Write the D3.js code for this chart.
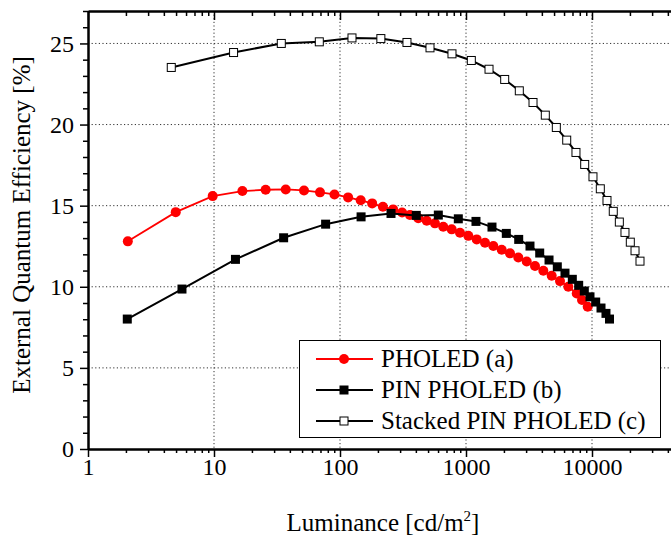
<!DOCTYPE html>
<html>
<head>
<meta charset="utf-8">
<script src="https://cdn.jsdelivr.net/npm/d3@7"></script>
<style>
  body { margin: 0; background: #fff; }
  svg { display: block; }
  svg text { font-family: "Liberation Serif", "Times New Roman", serif; fill: #000; }
  .grid line { stroke: #333; stroke-width: 1; stroke-dasharray: 1.2,2.4; }
</style>
</head>
<body>
<div id="chart"></div>
<script>
"use strict";

// PHOLED (a)
var pholedLum = [2.07, 4.97, 9.76, 16.8, 25.7, 37.1, 51.8, 69.4, 90.4, 116, 146, 180, 219, 264, 311,
  359, 418, 488, 567, 660, 770, 896, 1043, 1216, 1415, 1648, 1920, 2235, 2601, 3033,
  3530, 4110, 4788, 5571, 6486, 7563, 8334, 9246];
var pholedEqe = [12.80, 14.60, 15.59, 15.90, 15.98, 16.00, 15.94, 15.82, 15.69, 15.51, 15.33, 15.14, 14.93, 14.77, 14.58,
  14.42, 14.23, 14.07, 13.91, 13.70, 13.54, 13.33, 13.14, 12.92, 12.71, 12.51, 12.28, 12.06, 11.81, 11.56,
  11.28, 10.99, 10.68, 10.35, 10.00, 9.59, 9.18, 8.77];

// PIN PHOLED (b)
var pinLum = [2.05, 5.57, 14.8, 35.7, 76.9, 147, 254, 403, 603, 869, 1200, 1608, 2089, 2620, 3220,
  3846, 4560, 5305, 6105, 6980, 7840, 8690, 9640, 10700, 11790, 12910, 13770];
var pinEqe = [8.01, 9.86, 11.69, 13.02, 13.86, 14.31, 14.52, 14.40, 14.42, 14.19, 14.03, 13.68, 13.29, 12.92, 12.51,
  12.08, 11.65, 11.23, 10.84, 10.46, 10.09, 9.74, 9.38, 9.06, 8.69, 8.36, 8.01];

// Stacked PIN PHOLED (c)
var stackLum = [4.58, 14.3, 34.2, 68.5, 124.5, 211, 340, 518, 774, 1102, 1523, 2028, 2649, 3403,
  4260, 5210, 6300, 7460, 8750, 10180, 11640, 13150, 14750, 16480, 18270, 20140, 21950, 24040];
var stackEqe = [23.52, 24.44, 25.00, 25.10, 25.34, 25.30, 25.06, 24.73, 24.36, 23.95, 23.41, 22.78, 22.08, 21.36,
  20.58, 19.82, 19.04, 18.28, 17.54, 16.78, 16.04, 15.32, 14.65, 13.99, 13.35, 12.75, 12.22, 11.58];

var seriesNames = ["PHOLED (a)", "PIN PHOLED (b)", "Stacked PIN PHOLED (c)"];
var xMajor = [1, 10, 100, 1000, 10000];
var yMajor = [0, 5, 10, 15, 20, 25];

var width = 671;
var height = 538;

function zip(xs, ys) {
  return xs.map(function(v, i) { return { x: v, y: ys[i] }; });
}

var x = d3.scaleLog().domain([1, 100000]).range([88, 718]);
var y = d3.scaleLinear().domain([0, 27]).range([449, 11]);

// minor ticks 2..9 in every decade
var xMinor = [];
xMajor.forEach(function(d) {
  for (var k = 2; k <= 9; k++) xMinor.push(d * k);
});
var yMinor = d3.range(0, 28).filter(function(v) { return v % 5 !== 0; });

var svg = d3.select("#chart")
  .append("svg")
  .attr("width", width)
  .attr("height", height);

// dotted grid
var grid = svg.append("g").attr("class", "grid");
grid.selectAll(".gy")
  .data(yMajor.slice(1))
  .enter().append("line")
  .attr("x1", x(1)).attr("x2", width)
  .attr("y1", function(d) { return y(d); })
  .attr("y2", function(d) { return y(d); });
grid.selectAll(".gx")
  .data([10, 100, 1000, 10000])
  .enter().append("line")
  .attr("y1", y(27)).attr("y2", y(0))
  .attr("x1", function(d) { return x(d); })
  .attr("x2", function(d) { return x(d); });

function styleAxis(g) {
  g.attr("font-family", null);
  g.select(".domain").attr("stroke", "#000").attr("stroke-width", 2);
  g.selectAll(".tick line").attr("stroke", "#000").attr("stroke-width", 1.5);
  g.selectAll("text").attr("font-size", 24);
}

// bottom axis
svg.append("g")
  .attr("transform", "translate(0," + y(0) + ")")
  .call(d3.axisBottom(x).tickValues(xMinor).tickSize(4).tickSizeOuter(0).tickFormat(""))
  .call(styleAxis);
svg.append("g")
  .attr("transform", "translate(0," + y(0) + ")")
  .call(d3.axisBottom(x).tickValues(xMajor).tickSize(8).tickSizeOuter(0).tickPadding(1)
    .tickFormat(d3.format("d")))
  .call(styleAxis);

// top axis, ticks pointing inward
svg.append("g")
  .attr("transform", "translate(0," + y(27) + ")")
  .call(d3.axisTop(x).tickValues(xMinor).tickSize(-5).tickSizeOuter(0).tickFormat(""))
  .call(styleAxis);
svg.append("g")
  .attr("transform", "translate(0," + y(27) + ")")
  .call(d3.axisTop(x).tickValues(xMajor).tickSize(-9).tickSizeOuter(0).tickFormat(""))
  .call(styleAxis);

// left axis
svg.append("g")
  .attr("transform", "translate(" + x(1) + ",0)")
  .call(d3.axisLeft(y).tickValues(yMinor).tickSize(5).tickSizeOuter(0).tickFormat(""))
  .call(styleAxis);
svg.append("g")
  .attr("transform", "translate(" + x(1) + ",0)")
  .call(d3.axisLeft(y).tickValues(yMajor).tickSize(8).tickSizeOuter(0).tickPadding(6))
  .call(styleAxis);

// axis titles
svg.append("text")
  .attr("transform", "translate(30," + 225 + ") rotate(-90)")
  .attr("text-anchor", "middle")
  .attr("font-size", 25)
  .text("External Quantum Efficiency [%]");

var xt = svg.append("text")
  .attr("x", 383)
  .attr("y", 531)
  .attr("text-anchor", "middle")
  .attr("font-size", 25);
xt.append("tspan").text("Luminance [cd/m");
xt.append("tspan").attr("dy", -10).attr("font-size", 15).text("2");
xt.append("tspan").attr("dy", 10).text("]");

var line = d3.line()
  .x(function(d) { return x(d.x); })
  .y(function(d) { return y(d.y); });

var pholed = zip(pholedLum, pholedEqe);
var pin = zip(pinLum, pinEqe);
var stack = zip(stackLum, stackEqe);

// stacked device: open squares
svg.append("path").datum(stack)
  .attr("d", line).attr("fill", "none").attr("stroke", "#000").attr("stroke-width", 2);
svg.selectAll(".sq-open")
  .data(stack)
  .enter().append("rect")
  .attr("x", function(d) { return x(d.x) - 4; })
  .attr("y", function(d) { return y(d.y) - 4; })
  .attr("width", 8).attr("height", 8)
  .attr("fill", "#fff").attr("stroke", "#000").attr("stroke-width", 1);

// PHOLED: red circles
svg.append("path").datum(pholed)
  .attr("d", line).attr("fill", "none").attr("stroke", "#ff0000").attr("stroke-width", 1.8);
svg.selectAll(".dot")
  .data(pholed)
  .enter().append("circle")
  .attr("cx", function(d) { return x(d.x); })
  .attr("cy", function(d) { return y(d.y); })
  .attr("r", 5)
  .attr("fill", "#ff0000");

// PIN PHOLED: filled squares
svg.append("path").datum(pin)
  .attr("d", line).attr("fill", "none").attr("stroke", "#000").attr("stroke-width", 2);
svg.selectAll(".sq-fill")
  .data(pin)
  .enter().append("rect")
  .attr("x", function(d) { return x(d.x) - 4.5; })
  .attr("y", function(d) { return y(d.y) - 4.5; })
  .attr("width", 9).attr("height", 9)
  .attr("fill", "#000");

// legend
var legend = svg.append("g");
legend.append("rect")
  .attr("x", 299.5).attr("y", 340.5)
  .attr("width", 361).attr("height", 97)
  .attr("fill", "#fff").attr("stroke", "#000").attr("stroke-width", 1);

var rowY = [359, 390, 421];
var rowColor = ["#ff0000", "#000", "#000"];
seriesNames.forEach(function(name, i) {
  legend.append("line")
    .attr("x1", 316).attr("x2", 373)
    .attr("y1", rowY[i]).attr("y2", rowY[i])
    .attr("stroke", rowColor[i]).attr("stroke-width", i === 0 ? 1.8 : 2);
  if (i === 0) {
    legend.append("circle").attr("cx", 344).attr("cy", rowY[i]).attr("r", 5).attr("fill", "#ff0000");
  } else if (i === 1) {
    legend.append("rect").attr("x", 339.5).attr("y", rowY[i] - 4.5)
      .attr("width", 9).attr("height", 9).attr("fill", "#000");
  } else {
    legend.append("rect").attr("x", 340).attr("y", rowY[i] - 4)
      .attr("width", 8).attr("height", 8)
      .attr("fill", "#fff").attr("stroke", "#000").attr("stroke-width", 1);
  }
  legend.append("text")
    .attr("x", 381)
    .attr("y", rowY[i] + 8)
    .attr("font-size", 25)
    .text(name);
});
</script>
</body>
</html>
